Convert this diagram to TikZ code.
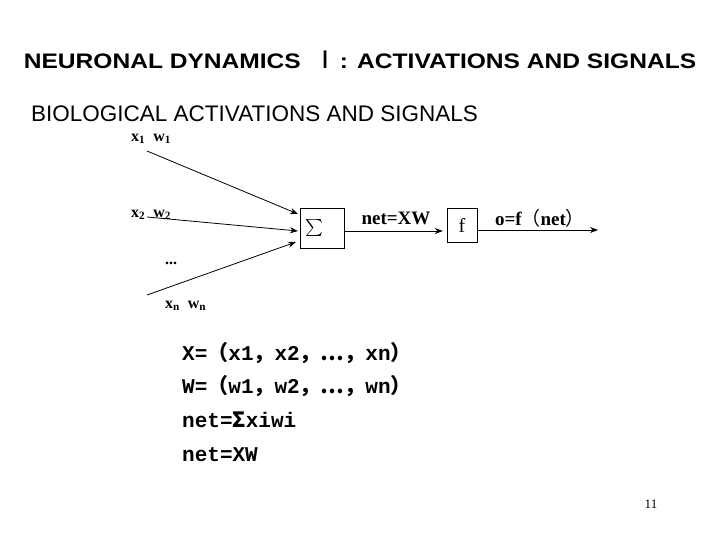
\documentclass[tikz,border=0pt]{standalone}
\usepackage{fontspec}
\setmainfont{Liberation Serif}
\setsansfont{Liberation Sans}
\setmonofont{Liberation Mono}
\newfontfamily\cjk{Noto Sans CJK SC}
\usetikzlibrary{arrows.meta}
\begin{document}
\begin{tikzpicture}[x=1pt,y=-1pt,
  box/.style={draw,thin,inner sep=0pt},
  conn/.style={thick,-{Stealth[length=8pt,width=6pt]}},
  lbl/.style={font=\fontsize{16}{16}\selectfont\bfseries,inner sep=0pt},
  big/.style={font=\fontsize{19}{19}\selectfont\bfseries,inner sep=0pt},
  eq/.style={anchor=west,inner sep=0pt,font=\fontsize{21}{21}\selectfont\ttfamily\bfseries}]
\useasboundingbox (0,0) rectangle (720,540);
\node[inner sep=0pt,font=\fontsize{21}{21}\selectfont\sffamily\bfseries,xscale=1.17] (title) at (360,60) {NEURONAL DYNAMICS \,{\cjk\mdseries\fontsize{24}{24}\selectfont Ⅰ}: ACTIVATIONS AND SIGNALS};
\node[anchor=west,inner sep=0pt,font=\fontsize{22.5}{22.5}\selectfont\sffamily] (sub) at (31,114) {BIOLOGICAL ACTIVATIONS AND SIGNALS};
\node[box,minimum width=44pt,minimum height=40pt] (sum) at (322,228) {};
\node[anchor=west,inner sep=0pt,scale=1.7] at ([xshift=5pt]sum.west) {$\sum$};
\node[box,minimum width=30pt,minimum height=34pt,font=\fontsize{20}{20}\selectfont] (f) at (462,225) {f};
\coordinate (s1) at (147,151);
\coordinate (s2) at (147,217);
\coordinate (sn) at (147,295);
\coordinate (e1) at (298,214);
\coordinate (e2) at (298,231);
\coordinate (en) at (296,242);
\coordinate (o) at (598,230);
\draw[conn] (s1) -- (e1);
\draw[conn] (s2) -- (e2);
\draw[conn] (sn) -- (en);
\draw[conn] (sum.east |- 0,231) -- ([xshift=-4pt]f.west |- 0,231);
\draw[conn] (f.east |- 0,230) -- (o);
\node[lbl,anchor=west] (l1) at (131,139) {x\textsubscript{1}\ \ w\textsubscript{1}};
\node[lbl,anchor=west] (l2) at (131,215) {x\textsubscript{2}\ \ w\textsubscript{2}};
\node[lbl,anchor=west] (ld) at (165,263) {...};
\node[lbl,anchor=west] (ln) at (165,306) {x\textsubscript{n}\ \ w\textsubscript{n}};
\node[big] (net) at (396,218) {net=XW};
\node[big] (of) at (540,218) {o=f{\cjk\mdseries（}net{\cjk\mdseries）}};
\node[eq] (q1) at (182,353) {X={\cjk（}x1{\cjk，}x2{\cjk，…，}xn{\cjk）}};
\node[eq] (q2) at (182,386) {W={\cjk（}w1{\cjk，}w2{\cjk，…，}wn{\cjk）}};
\node[eq] (q3) at (182,420) {net={\cjk\bfseries Σ}xiwi};
\node[eq] (q4) at (182,455) {net=XW};
\node[inner sep=0pt,font=\fontsize{13}{13}\selectfont] (pg) at (651,504) {11};
\end{tikzpicture}
\end{document}
